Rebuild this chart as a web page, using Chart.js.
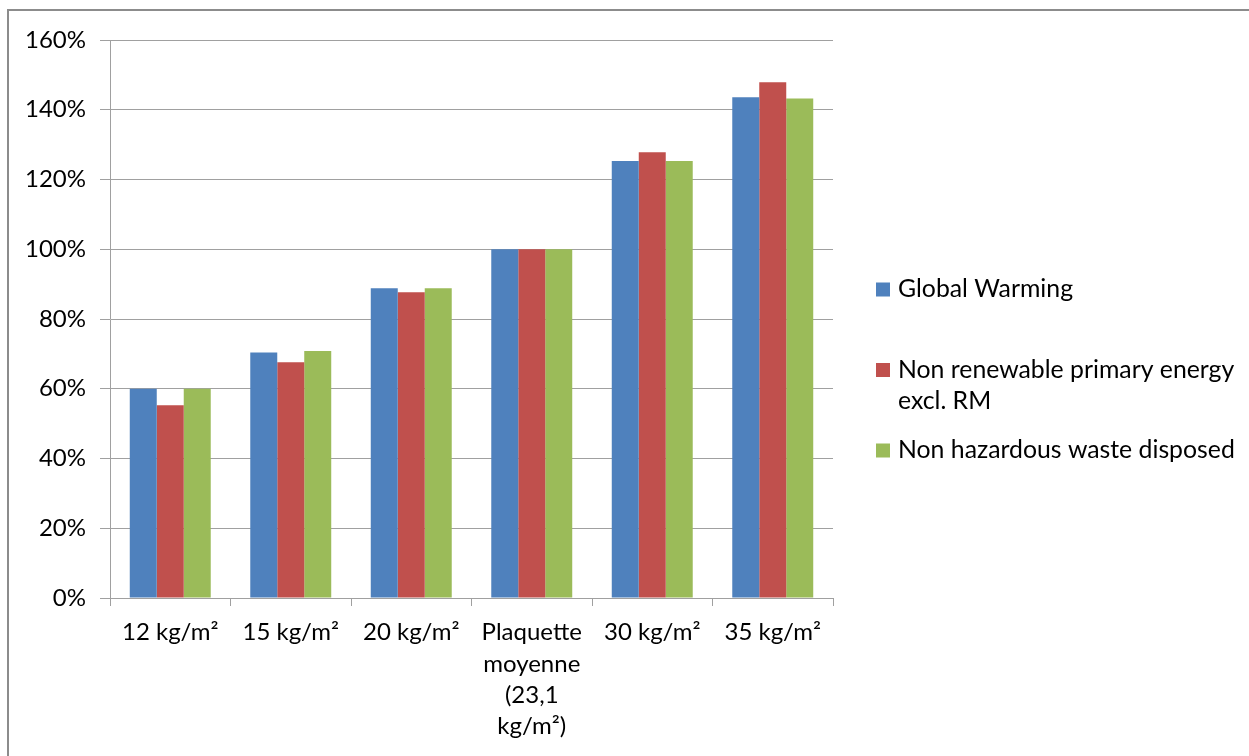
<!DOCTYPE html>
<html>
<head>
<meta charset="utf-8">
<script src="https://cdn.jsdelivr.net/npm/chart.js@4/dist/chart.umd.min.js"></script>
<style>
  html, body { margin: 0; padding: 0; background: #ffffff; }
  #wrap { width: 1249px; height: 756px; position: relative; }
</style>
</head>
<body>
<div id="wrap"><canvas id="c" width="1249" height="756"></canvas></div>
<script>
// Categories (surface mass of the panel)
const categories = [
  '12 kg/m²',
  '15 kg/m²',
  '20 kg/m²',
  ['Plaquette', 'moyenne', '(23,1', 'kg/m²)'],
  '30 kg/m²',
  '35 kg/m²'
];

// Indicator values, relative to the average panel (%)
const globalWarming      = [60.0, 70.4, 88.8, 100, 125.3, 143.6];
const nonRenewableEnergy = [55.3, 67.6, 87.7, 100, 127.8, 147.9];
const nonHazardousWaste  = [60.0, 70.8, 88.8, 100, 125.3, 143.2];

// Series names (legend lines)
const seriesNames = [
  ['Global Warming'],
  ['Non renewable primary energy', 'excl. RM'],
  ['Non hazardous waste disposed']
];

// Y axis ticks
const yTicks = [0, 20, 40, 60, 80, 100, 120, 140, 160];

const colors = ['#4F81BD', '#C0504D', '#9BBB59'];
const FONT = 'Lato, "Open Sans", sans-serif';
const FS = 24;
const LEGEND_FS = 24.8;
const GRID = '#a0a0a0';

// Outer frame of the chart object
const framePlugin = {
  id: 'frame',
  beforeDraw(chart) {
    const ctx = chart.ctx;
    ctx.save();
    ctx.fillStyle = '#ffffff';
    ctx.fillRect(0, 0, chart.width, chart.height);
    ctx.strokeStyle = '#8c8c8c';
    ctx.lineWidth = 2;
    ctx.strokeRect(8, 10, chart.width + 20, chart.height + 20);
    ctx.restore();
  }
};

// Legend to the right of the plot, one entry per series
const sideLegend = {
  id: 'sideLegend',
  afterDraw(chart) {
    const ctx = chart.ctx;
    const area = chart.chartArea;
    const x0 = area.right + 43;
    const box = 14;
    const lineH = 31;
    const entryStep = 80.5;
    const firstCenter = 289.5;
    ctx.save();
    ctx.font = LEGEND_FS + 'px ' + FONT;
    ctx.textBaseline = 'middle';
    ctx.textAlign = 'left';
    chart.data.datasets.forEach((ds, i) => {
      const lines = ds.legendLines;
      const cy = firstCenter + i * entryStep;
      ctx.fillStyle = ds.backgroundColor;
      ctx.fillRect(x0, cy - box / 2, box, box);
      ctx.fillStyle = '#000000';
      lines.forEach((t, j) => ctx.fillText(t, x0 + box + 8, cy + j * lineH));
    });
    ctx.restore();
  }
};

const datasets = [globalWarming, nonRenewableEnergy, nonHazardousWaste].map((vals, i) => ({
  label: seriesNames[i].join(' '),
  legendLines: seriesNames[i],
  data: vals,
  backgroundColor: colors[i],
  borderWidth: 0,
  categoryPercentage: 0.672,
  barPercentage: 1.0
}));

new Chart(document.getElementById('c'), {
  type: 'bar',
  data: { labels: categories, datasets },
  options: {
    responsive: false,
    devicePixelRatio: 1,
    animation: false,
    layout: { padding: { left: 0, top: 40, right: 416, bottom: 0 } },
    plugins: {
      legend: { display: false },
      tooltip: { enabled: false }
    },
    scales: {
      x: {
        offset: true,
        grid: { display: true, drawOnChartArea: false, drawTicks: true, tickLength: 8, color: GRID, offset: true },
        border: { display: true, color: GRID },
        ticks: {
          color: '#000000',
          font: { family: FONT, size: FS, lineHeight: 31.3 / FS },
          padding: 11,
          maxRotation: 0,
          minRotation: 0,
          autoSkip: false
        },
        afterFit(scale) { scale.height = 158; }
      },
      y: {
        min: yTicks[0],
        max: yTicks[yTicks.length - 1],
        afterBuildTicks(scale) { scale.ticks = yTicks.map(v => ({ value: v })); },
        grid: { color: GRID, tickLength: 10, drawTicks: true },
        border: { display: true, color: GRID },
        ticks: {
          color: '#000000',
          font: { family: FONT, size: FS },
          padding: 14,
          callback: v => v + '%'
        },
        afterFit(scale) { scale.width = 110; }
      }
    }
  },
  plugins: [framePlugin, sideLegend]
});
</script>
</body>
</html>
